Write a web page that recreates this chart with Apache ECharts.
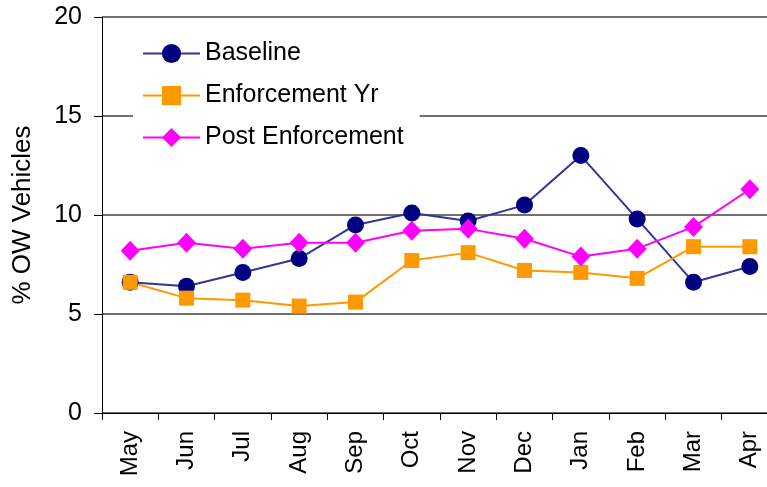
<!DOCTYPE html>
<html>
<head>
<meta charset="utf-8">
<script src="https://cdn.jsdelivr.net/npm/echarts@6/dist/echarts.min.js"></script>
<style>
  html, body { margin: 0; padding: 0; background: #fff; overflow: hidden; }
  /* the plot runs a little past the right edge of the picture */
  #chart { width: 778px; height: 487px; }
</style>
</head>
<body>
<div id="chart"></div>
<script>
const months = ['May', 'Jun', 'Jul', 'Aug', 'Sep', 'Oct', 'Nov', 'Dec', 'Jan', 'Feb', 'Mar', 'Apr'];
const baseline = [6.6, 6.4, 7.1, 7.8, 9.5, 10.1, 9.7, 10.5, 13.0, 9.8, 6.6, 7.4];
const enforcementYr = [6.6, 5.8, 5.7, 5.4, 5.6, 7.7, 8.1, 7.2, 7.1, 6.8, 8.4, 8.4];
const postEnforcement = [8.2, 8.6, 8.3, 8.6, 8.6, 9.2, 9.3, 8.8, 7.9, 8.3, 9.4, 11.3];
const yTicks = [0, 5, 10, 15, 20];

const font = 'Liberation Sans, Arial, sans-serif';
const chart = echarts.init(document.getElementById('chart'));

chart.setOption({
  animation: false,
  textStyle: { fontFamily: font },
  grid: { left: 102, top: 17, right: 0, height: 396 },
  legend: {
    orient: 'vertical',
    left: 133,
    top: 33,
    padding: [8, 16, 8, 9],
    backgroundColor: '#fff',
    itemWidth: 57,
    itemHeight: 24,
    itemGap: 17,
    textStyle: { fontSize: 25, color: '#000', fontFamily: font }
  },
  xAxis: {
    type: 'category',
    data: months,
    boundaryGap: true,
    axisLine: { lineStyle: { color: '#000', width: 1 } },
    axisTick: { show: true, length: 7, lineStyle: { color: '#000' } },
    axisLabel: { rotate: 90, fontSize: 24, color: '#000', fontFamily: font, margin: 18 }
  },
  yAxis: {
    type: 'value',
    min: yTicks[0],
    max: yTicks[yTicks.length - 1],
    interval: 5,
    name: '% OW Vehicles',
    nameLocation: 'middle',
    nameGap: 66,
    nameTextStyle: { fontSize: 26, color: '#000', fontFamily: font },
    axisLine: { show: true, lineStyle: { color: '#000', width: 1 } },
    axisTick: { show: true, length: 8, lineStyle: { color: '#000' } },
    axisLabel: { fontSize: 25, color: '#000', fontFamily: font, margin: 20 },
    splitLine: { show: true, lineStyle: { color: '#707070', width: 2 } }
  },
  series: [
    {
      name: 'Baseline',
      type: 'line',
      data: baseline,
      symbol: 'circle',
      symbolSize: 17,
      lineStyle: { color: '#333399', width: 2 },
      itemStyle: { color: '#000080' }
    },
    {
      name: 'Enforcement Yr',
      type: 'line',
      data: enforcementYr,
      symbol: 'rect',
      symbolSize: 15,
      lineStyle: { color: '#FF9900', width: 2 },
      itemStyle: { color: '#FF9900' }
    },
    {
      name: 'Post Enforcement',
      type: 'line',
      data: postEnforcement,
      symbol: 'diamond',
      symbolSize: [19, 20],
      lineStyle: { color: '#FF00FF', width: 2 },
      itemStyle: { color: '#FF00FF' }
    }
  ]
});
</script>
</body>
</html>
